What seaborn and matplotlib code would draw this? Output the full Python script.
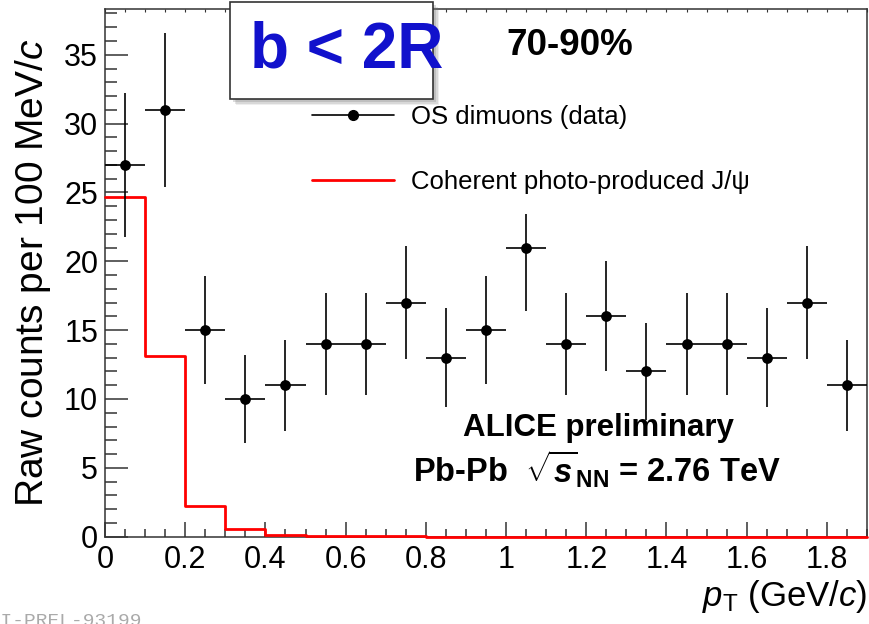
import numpy as np
import matplotlib
matplotlib.use("Agg")
import matplotlib.pyplot as plt
from matplotlib.lines import Line2D
from matplotlib.patches import Rectangle
from matplotlib.ticker import MultipleLocator, FixedFormatter, FixedLocator
import seaborn as sns

# ---------------- data ----------------
pt_centers = [0.05, 0.15, 0.25, 0.35, 0.45, 0.55, 0.65, 0.75, 0.85, 0.95,
              1.05, 1.15, 1.25, 1.35, 1.45, 1.55, 1.65, 1.75, 1.85]
counts = [27, 31, 15, 10, 11, 14, 14, 17, 13, 15,
          21, 14, 16, 12, 14, 14, 13, 17, 11]
count_err = [5.2, 5.6, 3.9, 3.2, 3.3, 3.7, 3.7, 4.1, 3.6, 3.9,
             4.6, 3.7, 4.0, 3.5, 3.7, 3.7, 3.6, 4.1, 3.3]
bin_half_width = 0.05
coherent_jpsi = [24.7, 13.1, 2.2, 0.55, 0.15, 0.05, 0.03, 0.02, 0.01, 0.0,
                 0.0, 0.0, 0.0, 0.0, 0.0, 0.0, 0.0, 0.0, 0.0]
x_ticks = [0, 0.2, 0.4, 0.6, 0.8, 1.0, 1.2, 1.4, 1.6, 1.8]
x_tick_labels = ["0", "0.2", "0.4", "0.6", "0.8", "1", "1.2", "1.4", "1.6", "1.8"]
y_ticks = [0, 5, 10, 15, 20, 25, 30, 35]
y_tick_labels = ["0", "5", "10", "15", "20", "25", "30", "35"]

# ---------------- style ----------------
sns.set_theme(style="ticks")
FONT = ["Liberation Sans", "DejaVu Sans"]
plt.rcParams["font.family"] = FONT
plt.rcParams["text.color"] = "black"
plt.rcParams["axes.labelcolor"] = "black"
plt.rcParams["xtick.labelcolor"] = "black"
plt.rcParams["ytick.labelcolor"] = "black"
plt.rcParams["mathtext.fontset"] = "custom"
plt.rcParams["mathtext.rm"] = "Liberation Sans"
plt.rcParams["mathtext.it"] = "Liberation Sans:italic"
plt.rcParams["mathtext.bf"] = "Liberation Sans:bold"
try:
    plt.rcParams["mathtext.bfit"] = "Liberation Sans:italic:bold"
except KeyError:
    pass

W, H = 870, 624
fig = plt.figure(figsize=(W / 100, H / 100), dpi=100)
fig.patch.set_facecolor("white")
ax = fig.add_axes([105 / W, 1 - 536.7 / H, 762 / W, 527.4 / H])

# coherent photo-produced J/psi histogram (steps)
edges = [c - bin_half_width for c in pt_centers] + [pt_centers[-1] + bin_half_width]
step_vals = coherent_jpsi + [coherent_jpsi[-1]]
sns.lineplot(x=edges, y=step_vals, drawstyle="steps-post", estimator=None,
             sort=False, color="red", lw=2.0, ax=ax, zorder=3, clip_on=False)

# data points with error bars
ax.errorbar(pt_centers, counts, xerr=bin_half_width, yerr=count_err, fmt="none",
            ecolor="black", elinewidth=1.2, capsize=0, zorder=4)
sns.scatterplot(x=pt_centers, y=counts, color="black", s=60, edgecolor="black",
                linewidth=0, ax=ax, zorder=5)

ax.set_xlim(0, 1.9)
ax.set_ylim(0, 38.3)

# ticks (ROOT-like, inside)
ax.xaxis.set_major_locator(FixedLocator(x_ticks))
ax.xaxis.set_major_formatter(FixedFormatter(x_tick_labels))
ax.xaxis.set_minor_locator(MultipleLocator(0.05))
ax.yaxis.set_major_locator(FixedLocator(y_ticks))
ax.yaxis.set_major_formatter(FixedFormatter(y_tick_labels))
ax.yaxis.set_minor_locator(MultipleLocator(1))
ax.tick_params(axis="x", which="major", direction="in", length=11, width=1.1,
               labelsize=22, pad=6, color="#333333", top=False)
ax.tick_params(axis="x", which="minor", direction="in", length=6, width=1.1,
               color="#333333", top=False)
ax.tick_params(axis="y", which="major", direction="in", length=16.5, width=1.1,
               labelsize=22, pad=5, color="#333333", right=False)
ax.tick_params(axis="y", which="minor", direction="in", length=8.5, width=1.1,
               color="#333333", right=False)
for sp in ax.spines.values():
    sp.set_visible(True)
    sp.set_linewidth(1.1)
    sp.set_color("#333333")

# tiny ticks on top axis
sec = ax.secondary_xaxis("top")
sec.xaxis.set_major_locator(MultipleLocator(0.05))
sec.tick_params(axis="x", direction="in", length=2, width=0.8, labeltop=False,
                color="#333333")
sec.xaxis.set_major_formatter(FixedFormatter([]))
sec.spines["top"].set_visible(False)

# axis labels
ax.set_xlabel(r"$p_{\mathrm{T}}$ (GeV/$c$)", fontsize=25, loc="right", labelpad=2)
ax.set_ylabel(r"Raw counts per 100 MeV/$c$", fontsize=28, labelpad=8)

# legend (white, borderless box that hides what lies beneath, as in ROOT)
handles = [Line2D([], [], color="black", marker="o", markersize=7, lw=1.2),
           Line2D([], [], color="red", lw=2.0)]
labels = ["OS dimuons (data)", "Coherent photo-produced J/\u03c8"]
leg = ax.legend(handles, labels, loc="upper left", bbox_to_anchor=(0.2455, 0.856),
                frameon=True, fancybox=False, facecolor="white", edgecolor="none",
                framealpha=1.0, fontsize=18.5, handlelength=3.2, handletextpad=0.66,
                labelspacing=1.58, borderpad=0.78, borderaxespad=0)
leg.set_zorder(6)

# texts
ax.text(0.61, 0.932, "70-90%", transform=ax.transAxes, fontsize=26.5,
        fontweight="bold", ha="center", va="center", zorder=7)
ax.text(0.647, 0.206, "ALICE preliminary", transform=ax.transAxes, fontsize=22.5,
        fontweight="bold", ha="center", va="center")
ax.text(0.645, 0.128, r"Pb-Pb  $\sqrt{\mathbfit{s}}_{\mathbf{NN}}$ = 2.76 TeV",
        transform=ax.transAxes, fontsize=23.5, fontweight="bold",
        ha="center", va="center")

# "b < 2R" box with shadow
bx, by, bw, bh = 230 / W, 1 - 99 / H, 203 / W, 97 / H
for k, a in enumerate([0.12, 0.18, 0.25]):
    off = 6 - 1.5 * k
    fig.patches.append(Rectangle((bx + off / W, by - off / H), bw, bh,
                                 transform=fig.transFigure, facecolor="#777777",
                                 edgecolor="none", alpha=a, zorder=5))
box = Rectangle((bx, by), bw, bh, transform=fig.transFigure, facecolor="white",
                edgecolor="#333333", lw=1.2, zorder=6)
fig.patches.append(box)
fig.text(347 / W, 1 - 51 / H, "b < 2R", fontsize=46, fontweight="bold",
         color="#1111cc", ha="center", va="center", zorder=7)

# watermark (partially cut at the bottom edge, as in the reference)
fig.text(-23 / W, 1 - 613 / H, "ALI-PREL-93199", fontsize=14,
         family=["Liberation Mono", "DejaVu Sans Mono"], color="#aaaaaa",
         ha="left", va="top")

fig.savefig("out.png", dpi=100, facecolor="white")
